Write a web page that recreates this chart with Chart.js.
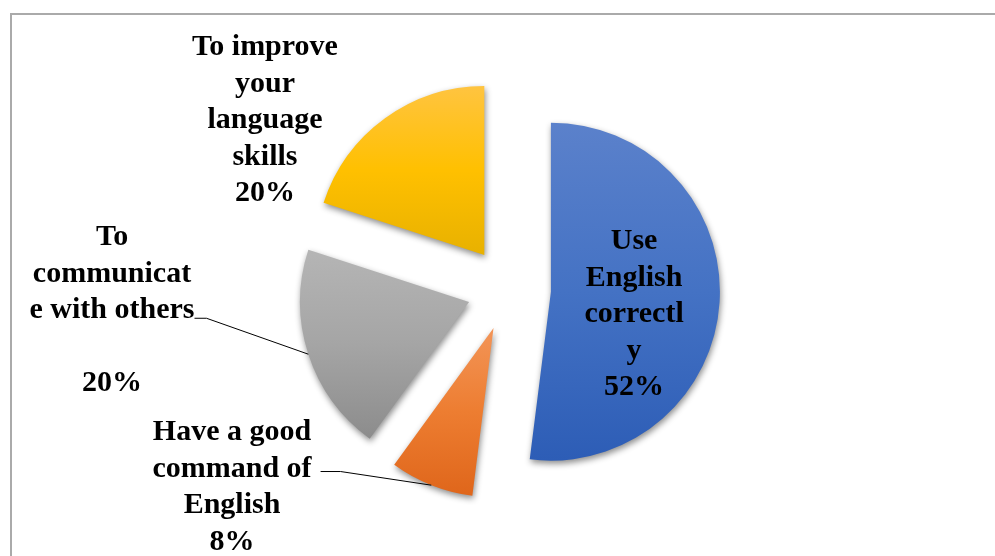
<!DOCTYPE html>
<html>
<head>
<meta charset="utf-8">
<script src="https://cdn.jsdelivr.net/npm/chart.js@4.4.0/dist/chart.umd.min.js"></script>
<style>
  html, body { margin: 0; padding: 0; background: #fff; }
  #chart { display: block; }
</style>
</head>
<body>
<canvas id="chart" width="995" height="556"></canvas>
<script>
// survey answers, in drawing order (clockwise from 12 o'clock)
const categories = ['Use English correctly', 'Have a good command of English', 'To communicate with others', 'To improve your language skills'];
const shares = [52, 8, 20, 20];

// the labels are wrapped the same odd way as in the original
const labelLines = [
  ['Use', 'English', 'correctl', 'y'],
  ['Have a good', 'command of', 'English'],
  ['To', 'communicat', 'e with others', ''],
  ['To improve', 'your', 'language', 'skills']
];

// top / middle / bottom of each slice's gradient
const sliceColors = [
  ['#5b81cb', '#4472c4', '#2d5db6'],
  ['#f39558', '#ed7d31', '#df661b'],
  ['#b5b5b5', '#a5a5a5', '#8c8c8c'],
  ['#ffc440', '#ffc000', '#e8b100']
];

const total = shares.reduce((a, b) => a + b, 0);
const pct = v => Math.round(v / total * 100) + '%';

// pulls slices out along their mid angle and paints the vertical gradient
const explodePlugin = {
  id: 'explodeSlices',
  afterDatasetsUpdate(chart, args, opts) {
    const meta = chart.getDatasetMeta(0);
    meta.data.forEach((arc, i) => {
      const mid = (arc.startAngle + arc.endAngle) / 2;
      arc.x += Math.cos(mid) * opts.distance;
      arc.y += Math.sin(mid) * opts.distance;

      let top = arc.y, bottom = arc.y;
      for (let k = 0; k <= 64; k++) {
        const a = arc.startAngle + (arc.endAngle - arc.startAngle) * k / 64;
        const py = arc.y + Math.sin(a) * arc.outerRadius;
        top = Math.min(top, py);
        bottom = Math.max(bottom, py);
      }
      const g = chart.ctx.createLinearGradient(0, top, 0, bottom);
      g.addColorStop(0, sliceColors[i][0]);
      g.addColorStop(0.5, sliceColors[i][1]);
      g.addColorStop(1, sliceColors[i][2]);
      arc.options.backgroundColor = g;
    });
  },
  beforeDatasetsDraw(chart, args, opts) {
    const ctx = chart.ctx;
    ctx.save();
    ctx.shadowColor = opts.shadowColor;
    ctx.shadowBlur = opts.shadowBlur;
    ctx.shadowOffsetX = 1;
    ctx.shadowOffsetY = 3;
  },
  afterDatasetsDraw(chart) {
    chart.ctx.restore();
  }
};

const labelPlugin = {
  id: 'sliceLabels',
  beforeDraw(chart, args, opts) {
    const ctx = chart.ctx;
    ctx.save();
    ctx.strokeStyle = opts.frameColor;
    ctx.lineWidth = 2;
    ctx.strokeRect(11, 14, chart.width + 20, chart.height + 20);
    ctx.restore();
  },
  afterDraw(chart, args, opts) {
    const ctx = chart.ctx;
    const area = chart.chartArea;
    const cx = (area.left + area.right) / 2;
    const cy = (area.top + area.bottom) / 2;
    const arcs = chart.getDatasetMeta(0).data;
    const R = arcs[0].outerRadius;

    ctx.save();
    ctx.font = opts.font;
    ctx.fillStyle = '#000';
    ctx.textAlign = 'center';
    ctx.textBaseline = 'alphabetic';

    arcs.forEach((arc, i) => {
      const lines = labelLines[i].concat([pct(shares[i])]);
      const x = cx + opts.anchors[i][0] * R;
      const y0 = cy + opts.anchors[i][1] * R;
      lines.forEach((t, j) => ctx.fillText(t, x, y0 + j * opts.lineHeight));

      const lead = opts.leaders[i];
      if (lead) {
        const w = ctx.measureText(lines[lead.line]).width;
        const sx = x + w / 2 + lead.gap;
        const sy = y0 + lead.line * opts.lineHeight + lead.dy;
        const mid = (arc.startAngle + arc.endAngle) / 2;
        const ex = arc.x + Math.cos(mid) * arc.outerRadius;
        const ey = arc.y + Math.sin(mid) * arc.outerRadius;
        ctx.beginPath();
        ctx.strokeStyle = '#000';
        ctx.lineWidth = 1;
        ctx.moveTo(sx, sy);
        ctx.lineTo(sx + lead.run, sy);
        ctx.lineTo(ex, ey);
        ctx.stroke();
      }
    });
    ctx.restore();
  }
};

new Chart(document.getElementById('chart'), {
  type: 'pie',
  data: {
    labels: categories,
    datasets: [{
      data: shares,
      backgroundColor: sliceColors.map(c => c[1]),
      borderWidth: 0
    }]
  },
  options: {
    responsive: false,
    animation: false,
    events: [],
    radius: 169,
    layout: { padding: { left: 23, right: 0, top: 22, bottom: 0 } },
    plugins: {
      legend: { display: false },
      tooltip: { enabled: false },
      explodeSlices: { distance: 42, shadowColor: 'rgba(0,0,0,0.45)', shadowBlur: 6 },
      sliceLabels: {
        font: 'bold 30px "Liberation Serif", "Times New Roman", serif',
        lineHeight: 36.6,
        frameColor: '#aaaaaa',
        // first baseline of each label, relative to the pie centre in radii
        anchors: [[0.740, -0.237], [-1.639, 0.893], [-2.349, -0.260], [-1.444, -1.385]],
        leaders: {
          1: { line: 1, gap: 9, dy: -5, run: 20 },
          2: { line: 2, gap: 0, dy: 0, run: 12 }
        }
      }
    }
  },
  plugins: [explodePlugin, labelPlugin]
});
</script>
</body>
</html>
